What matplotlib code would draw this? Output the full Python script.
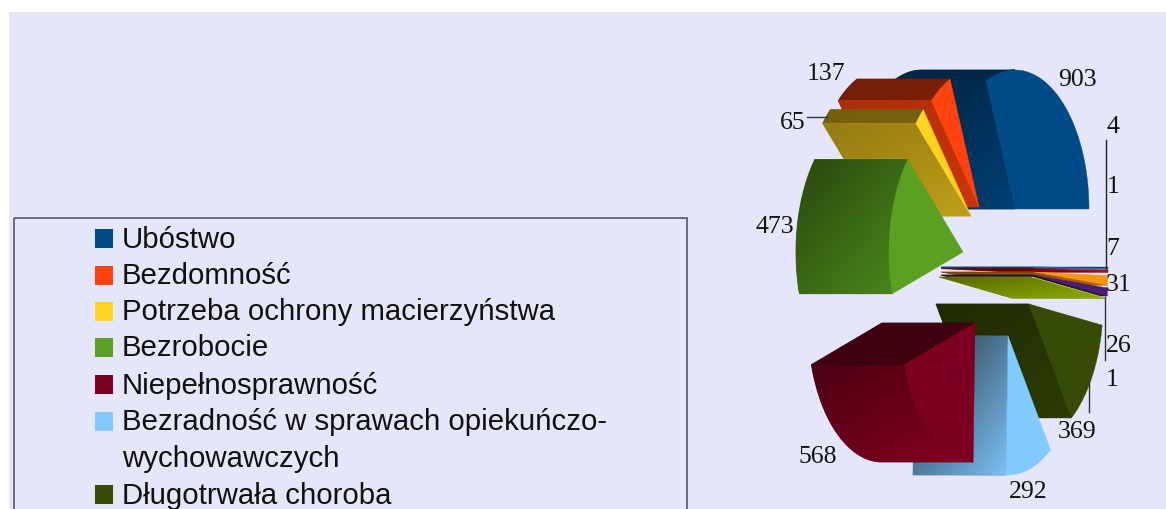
import numpy as np
import matplotlib
matplotlib.use("Agg")
import matplotlib.pyplot as plt
from matplotlib.colors import to_rgb
from matplotlib.patches import Polygon, Rectangle

# pie values, in the order they go round counter-clockwise from 3 o'clock
values = [903, 137, 65, 473, 568, 292, 369, 1, 26, 31, 7, 1, 4]
colors = ["#004a88", "#ff420e", "#ffd320", "#5ba020", "#7e0021", "#83caff", "#374a06",
          "#aecf00", "#4b1f6f", "#ff950e", "#c5000b", "#0084d1", "#004586"]

categories = ["Ubóstwo", "Bezdomność", "Potrzeba ochrony macierzyństwa", "Bezrobocie",
              "Niepełnosprawność", "Bezradność w sprawach opiekuńczo-\nwychowawczych",
              "Długotrwała choroba"]

# layout only: where each exploded slice has its apex, the oblique view of the disc
apex_x = [1015, 979, 971, 963, 975, 1008, 1029, 1032, 1034, 1034, 1034, 1034, 1034]
apex_y = [209, 207, 216, 252, 323, 336, 304, 277, 275, 272, 268.5, 267.5, 267]
radius_x, radius_y = 74, 139
depth = 93
draw_order = [0, 1, 2, 3, 12, 11, 10, 9, 8, 7, 6, 5, 4]

# how dark each side is, (upper left, lower right)
rim_shade = [(.5, .55), (.45, .48), (.45, .47), (.45, .85), (.6, 1.05), (.6, .9), (.6, .8),
             (.5, .8), (.5, .8), (.5, .8), (.5, .8), (.5, .8), (.5, .8)]
cut_shade = [(.45, .85), (.68, .8), (.58, .75), (.5, .8), (.48, .52), (.25, .95), (.58, .8),
             (.5, .82), (.45, .7), (.45, .7), (.45, .7), (.45, .7), (.45, .7)]

# text labels: value, centre x, centre y
label_text = ["903", "137", "65", "473", "4", "1", "7", "31", "26", "1", "369", "292", "568"]
label_x = [1077, 826, 793, 775, 1113, 1113, 1113, 1119, 1119, 1112, 1077, 1028, 818]
label_y = [80, 74, 123, 227, 127, 187, 249, 285, 346, 380, 432, 492, 457]

fig = plt.figure(figsize=(11.66, 5.09), dpi=100, facecolor="white")
ax = fig.add_axes([0, 0, 1, 1])
ax.axis("off")

zorder = [10]


def next_z():
    zorder[0] += 1
    return zorder[0]


def point(angle, cx, cy):
    rad = np.radians(angle)
    return cx + radius_x * np.cos(rad), cy - radius_y * np.sin(rad)


def shaded(points, color, shade):
    # polygon filled with a diagonal gradient, darker at the upper left
    points = np.array(points)
    x0, y0 = points.min(axis=0)
    x1, y1 = points.max(axis=0)
    if x1 - x0 < 0.5 or y1 - y0 < 0.5:
        return
    base = np.array(to_rgb(color))
    # solid polygon underneath so no seam shows between neighbouring faces
    mean = np.clip(base * (shade[0] + shade[1]) / 2, 0, 1)
    ax.add_patch(Polygon(points, closed=True, facecolor=mean, edgecolor=mean, linewidth=0.6, zorder=next_z()))
    gx, gy = np.meshgrid(np.linspace(0, 1, 40), np.linspace(0, 1, 40))
    f = shade[0] + (shade[1] - shade[0]) * (gx + gy) / 2
    img = np.clip(f[:, :, None] * base, 0, 1)
    im = ax.imshow(img, extent=(x0, x1, y1, y0), aspect="auto", interpolation="bilinear", zorder=next_z())
    patch = Polygon(points, closed=True, facecolor="none", edgecolor="none", transform=ax.transData)
    ax.add_patch(patch)
    im.set_clip_path(patch)


def draw_slice(i, a0, a1):
    cx, cy = apex_x[i], apex_y[i]
    color = colors[i]

    # outer rim, only the part that looks to the left
    r0, r1 = max(a0, 90), min(a1, 270)
    if r1 > r0:
        arc = np.array([point(a, cx, cy) for a in np.linspace(r0, r1, 60)])
        back = arc[::-1] - [depth, 0]
        shaded(np.vstack([arc, back]), color, rim_shade[i])

    # the cut face that shows once the slice is pushed back
    cut = None
    if np.sin(np.radians(a1)) > 0:
        cut = a1
    elif np.sin(np.radians(a0)) < 0:
        cut = a0
    if cut is not None:
        px, py = point(cut, cx, cy)
        shaded([(cx, cy), (px, py), (px - depth, py), (cx - depth, cy)], color, cut_shade[i])

    # front face
    arc = [point(a, cx, cy) for a in np.linspace(a0, a1, 60)]
    ax.add_patch(Polygon([(cx, cy)] + arc, closed=True, facecolor=color, edgecolor=color,
                         linewidth=0.3, zorder=next_z()))


ax.add_patch(Rectangle((9, 12), 1157, 497, facecolor="#e6e6fa", edgecolor="none", zorder=1))

ends = np.cumsum(values) / sum(values) * 360
starts = np.concatenate([[0], ends[:-1]])
for i in draw_order:
    draw_slice(i, starts[i], ends[i])

# leader lines
ax.plot([1106, 1106], [140, 269], color="#222222", lw=1, zorder=200)
ax.plot([1105, 1105], [297, 360], color="#333333", lw=1, zorder=200)
ax.plot([1089, 1089], [380, 412], color="#333333", lw=1, zorder=200)
ax.plot([807, 827], [117, 117], color="#333333", lw=1, zorder=200)

for text, x, y in zip(label_text, label_x, label_y):
    ax.text(x, y, text, family="Liberation Serif", fontsize=18.5, color="#111111",
            ha="center", va="center", zorder=201)

# legend box runs off the bottom edge of the picture
ax.add_patch(Rectangle((14, 218), 673, 320, facecolor="none", edgecolor="#555566", linewidth=1.2, zorder=5))
row_y = [238, 275, 311, 347, 384, 421, 494]
for name, color, y in zip(categories, colors, row_y):
    ax.add_patch(Rectangle((95, y - 9.5), 18, 19, facecolor=color, edgecolor="none", zorder=6))
    for k, line in enumerate(name.split("\n")):
        ax.text(122, y + 1.5 + 36.5 * k, line, family="Liberation Sans", fontsize=21.2, color="#111111",
                ha="left", va="center", zorder=6)

ax.set_xlim(0, 1166)
ax.set_ylim(509, 0)
fig.savefig("out.png", dpi=100)
